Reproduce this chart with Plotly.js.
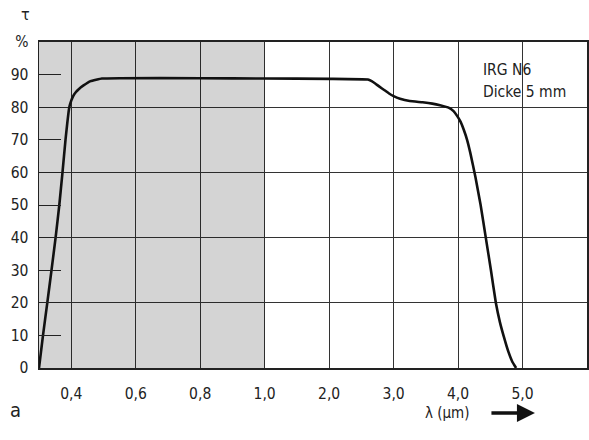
<!DOCTYPE html>
<html>
<head>
<meta charset="utf-8">
<script src="https://cdn.plot.ly/plotly-3.0.1.min.js"></script>
<style>
html,body{margin:0;padding:0;background:#fff;}
#chart{width:589px;height:440px;}
</style>
</head>
<body>
<div id="chart"></div>
<script>
// Wavelength (µm) and transmission τ (%)
const lambda = [0.30, 0.3124, 0.3257, 0.3388, 0.3515, 0.363, 0.3729, 0.3822, 0.394, 0.400, 0.406, 0.414, 0.424, 0.437, 0.46, 0.495, 0.55, 0.8, 1.0, 2.0, 2.6, 2.66, 2.72, 2.78, 2.86, 2.93, 3.0, 3.1, 3.25, 3.45, 3.6, 3.72, 3.86, 3.93, 3.98, 4.04, 4.09, 4.14, 4.19, 4.27, 4.35, 4.43, 4.51, 4.586, 4.65, 4.71, 4.78, 4.84, 4.90];
const tau    = [0,    10,     20,     30,     40,     50,    60,     70,     80,    82.0,  83.4,  84.6,  85.6,  86.6,  88.0, 88.8,  88.9, 88.9, 88.8, 88.7, 88.5, 88.0, 87.2, 86.3, 85.2, 84.2, 83.4, 82.6, 81.9, 81.5, 81.1, 80.6, 79.8, 78.8, 77.5, 75.5, 73.0, 70.0, 66.0, 58.5, 50.0, 40.0, 30.0, 20.0,  14.0, 9.6,  5.0,  2.0,  0];

const xTickValues = [0.4, 0.6, 0.8, 1.0, 2.0, 3.0, 4.0, 5.0];
const xTickLabels = ["0,4", "0,6", "0,8", "1,0", "2,0", "3,0", "4,0", "5,0"];
const yTickValues = [0, 10, 20, 30, 40, 50, 60, 70, 80, 90, 100];
const yTickLabels = ["0", "10", "20", "30", "40", "50", "60", "70", "80", "90", "%"];
const yGridValues = [20, 40, 60, 80];
const shadeRange = [0.3, 1.0];
const xMin = 0.3, xMax = 6.0;

// Broken wavelength scale: 0.2 µm per division below 1 µm, 1 µm per division above
function u(l) { return l <= 1 ? (l - 0.3) * 5 : 3.5 + (l - 1); }

const FONT = '"DejaVu Sans Condensed", "DejaVu Sans", sans-serif';

const shade = {
  x: [u(shadeRange[0]), u(shadeRange[1]), u(shadeRange[1]), u(shadeRange[0])],
  y: [0, 0, 100, 100],
  type: 'scatter', mode: 'none', fill: 'toself',
  fillcolor: 'rgba(0,0,0,0.17)',
  hoverinfo: 'skip', showlegend: false
};

// invisible helper so the grid axis is drawn
const gridHelper = {
  x: [u(xMin)], y: [0], yaxis: 'y2', type: 'scatter', mode: 'markers',
  marker: {opacity: 0}, hoverinfo: 'skip', showlegend: false
};

const curve = {
  x: lambda.map(u), y: tau,
  type: 'scatter', mode: 'lines',
  line: {color: '#111', width: 2.6, shape: 'spline', smoothing: 0.3},
  showlegend: false
};

const layout = {
  width: 589, height: 440,
  margin: {l: 39, r: 2, t: 42, b: 72},
  paper_bgcolor: '#fff', plot_bgcolor: '#fff',
  font: {family: FONT, size: 15, color: '#222'},
  showlegend: false,
  xaxis: {
    range: [u(xMin), u(xMax)],
    tickmode: 'array', tickvals: xTickValues.map(u), ticktext: xTickLabels,
    showgrid: true, gridcolor: '#333', gridwidth: 1,
    zeroline: false, showline: true, linecolor: '#222', linewidth: 2, mirror: true,
    ticks: '', ticklabelstandoff: 10,
    tickfont: {family: FONT, size: 15.5, color: '#222'},
    fixedrange: true
  },
  yaxis: {
    range: [0, 100],
    tickmode: 'array', tickvals: yTickValues, ticktext: yTickLabels,
    showgrid: false, zeroline: false,
    showline: true, linecolor: '#222', linewidth: 1.5, mirror: true,
    ticks: 'inside', ticklen: 22, tickwidth: 1, tickcolor: '#222',
    ticklabelstandoff: 6,
    tickfont: {family: FONT, size: 15.5, color: '#222'},
    fixedrange: true
  },
  yaxis2: {
    range: [0, 100], overlaying: 'y', side: 'left',
    tickmode: 'array', tickvals: yGridValues,
    showticklabels: false, ticks: '',
    showgrid: true, gridcolor: '#333', gridwidth: 1,
    zeroline: false, showline: false, fixedrange: true
  },
  annotations: [
    {xref: 'paper', yref: 'paper', x: -0.012, y: 1.083, xanchor: 'right', yanchor: 'middle',
     text: 'τ', showarrow: false, font: {family: FONT, size: 16, color: '#222'}},
    {xref: 'paper', yref: 'paper', x: -0.057, y: -0.129, xanchor: 'left', yanchor: 'middle',
     text: 'a', showarrow: false, font: {family: FONT, size: 20, color: '#222'}},
    {xref: 'paper', yref: 'paper', x: 0.746, y: -0.138, xanchor: 'center', yanchor: 'middle',
     text: 'λ (µm)', showarrow: false, font: {family: FONT, size: 15, color: '#222'}},
    {xref: 'paper', yref: 'paper', x: 0.905, y: -0.138, ax: -45, ay: 0,
     text: '', showarrow: true, arrowhead: 2, arrowsize: 1, arrowwidth: 3.6, arrowcolor: '#111', standoff: 0},
    {xref: 'paper', yref: 'paper', x: 0.807, y: 0.914, xanchor: 'left', yanchor: 'middle',
     text: 'IRG N6', showarrow: false, font: {family: FONT, size: 15.5, color: '#222'}},
    {xref: 'paper', yref: 'paper', x: 0.807, y: 0.847, xanchor: 'left', yanchor: 'middle',
     text: 'Dicke 5 mm', showarrow: false, font: {family: FONT, size: 15.5, color: '#222'}}
  ]
};

Plotly.newPlot('chart', [shade, gridHelper, curve], layout, {displayModeBar: false, staticPlot: true});
</script>
</body>
</html>
